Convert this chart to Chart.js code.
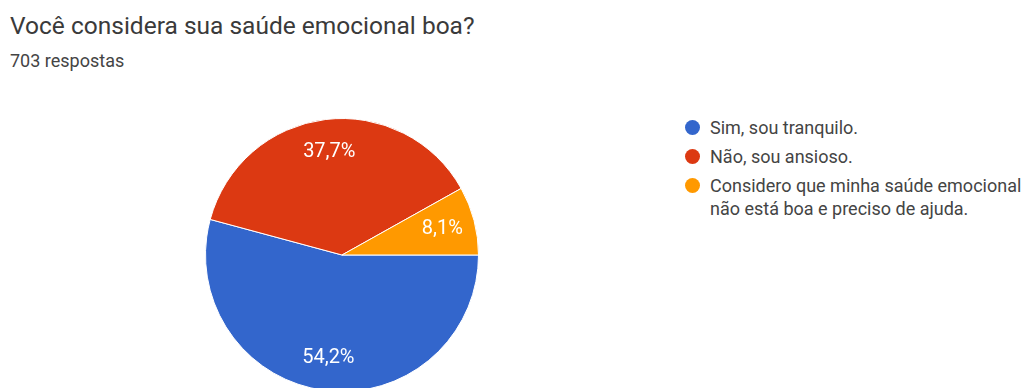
<!DOCTYPE html>
<html lang="pt-BR">
<head>
<meta charset="utf-8">
<script src="https://cdn.jsdelivr.net/npm/chart.js@4"></script>
<style>
  html, body { margin: 0; padding: 0; background: #fff; }
  body { width: 1028px; height: 388px; overflow: hidden; position: relative; font-family: Roboto, Arial, sans-serif; }
  #title { position: absolute; left: 10px; top: 14px; font-size: 24.5px; line-height: 24.5px; color: #3a3a3a; white-space: nowrap; }
  #subtitle { position: absolute; left: 10px; top: 52px; font-size: 18px; line-height: 18px; color: #444; white-space: nowrap; }
  #pie { position: absolute; left: 205px; top: 118px; }
  #legend { position: absolute; left: 685px; top: 116px; list-style: none; margin: 0; padding: 0; }
  #legend li { display: flex; align-items: flex-start; font-size: 18px; line-height: 23px; color: #444; margin-bottom: 6px; white-space: nowrap; }
  #legend .dot { flex: none; width: 15px; height: 15px; border-radius: 50%; margin: 4px 10px 0 0; }
</style>
</head>
<body>
<div id="title">Você considera sua saúde emocional boa?</div>
<div id="subtitle">703 respostas</div>
<canvas id="pie" width="274" height="274"></canvas>
<ul id="legend"></ul>
<script>
// ── Data ─────────────────────────────────────────────────────────────────────
const answers = ['Sim, sou tranquilo.', 'Não, sou ansioso.', 'Considero que minha saúde emocional<br>não está boa e preciso de ajuda.'];
const counts  = [381, 265, 57];
const colors  = ['#3366cc', '#dc3912', '#ff9900'];

const total = counts.reduce((a, b) => a + b, 0);

// percentage text inside each slice, "54,2%" style
const sliceLabels = {
  id: 'sliceLabels',
  afterDatasetsDraw(chart) {
    const {ctx} = chart;
    const meta = chart.getDatasetMeta(0);
    ctx.save();
    ctx.font = "20px Roboto, Arial, sans-serif";
    ctx.fillStyle = '#fff';
    ctx.textAlign = 'center';
    ctx.textBaseline = 'middle';
    meta.data.forEach((arc, i) => {
      const p = arc.getProps(['x', 'y', 'startAngle', 'endAngle', 'outerRadius'], true);
      const mid = (p.startAngle + p.endAngle) / 2;
      const r = p.outerRadius * 0.76;
      const txt = (counts[i] / total * 100).toFixed(1).replace('.', ',') + '%';
      ctx.fillText(txt, p.x + Math.cos(mid) * r, p.y + Math.sin(mid) * r);
    });
    ctx.restore();
  }
};

new Chart(document.getElementById('pie'), {
  type: 'pie',
  data: {
    labels: answers.map(a => a.replace('<br>', ' ')),
    datasets: [{ data: counts, backgroundColor: colors, borderColor: '#fff', borderWidth: 1, hoverOffset: 0 }]
  },
  options: {
    responsive: false,
    animation: false,
    rotation: 90,   // first slice starts at 3 o'clock
    plugins: { legend: { display: false }, tooltip: { enabled: false } },
    layout: { padding: 0 }
  },
  plugins: [sliceLabels]
});

// ── Legend ───────────────────────────────────────────────────────────────────
const ul = document.getElementById('legend');
answers.forEach((a, i) => {
  const li = document.createElement('li');
  li.innerHTML = `<span class="dot" style="background:${colors[i]}"></span><span>${a}</span>`;
  ul.appendChild(li);
});
</script>
</body>
</html>
